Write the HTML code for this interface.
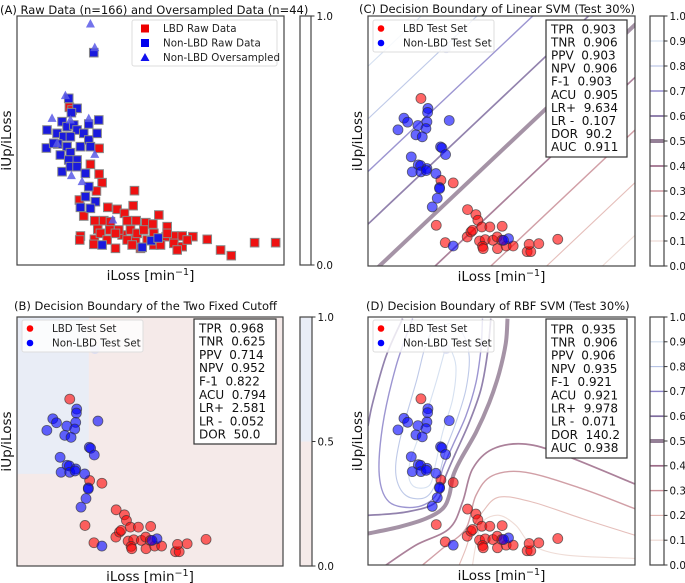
<!DOCTYPE html>
<html><head><meta charset="utf-8"><style>
html,body{margin:0;padding:0;background:#fff;}
svg{display:block;font-family:"DejaVu Sans","Liberation Sans",sans-serif;}
</style></head><body>
<svg id="fig" width="685" height="583" viewBox="0 0 685 583" xmlns="http://www.w3.org/2000/svg">
<defs>
<clipPath id="clipC"><rect x="368" y="16" width="267" height="250"/></clipPath>
<clipPath id="clipD"><rect x="368" y="317" width="267" height="248"/></clipPath>
</defs>
<g id="root"></g>
</svg>
<script>
// ---------- Panel A raw data (iLoss, iUp/iLoss in relative units) ----------
const rawRedX=[157,246,220,246,255,238,352,348,300,272,187,200,233,242,260,280,322,330,357,386,425,407,450,447,470,495,527,570,610,642,712,775,190,188,232,250,278,295,315,340,355,370,390,410,430,470,495,510,480,230,270,305,360,330,410,380,450,215,165,295,345];
const rawRedY=[473,350,302,273,247,222,223,178,167,173,195,147,133,107,133,130,155,133,133,127,150,123,115,85,87,87,85,77,45,28,67,67,87,75,77,95,105,50,90,105,77,50,75,60,60,65,55,75,45,62,75,105,95,75,95,105,95,235,465,95,60];
const rawBlueX=[230,155,180,163,245,215,90,135,150,170,180,200,120,140,160,122,88,110,150,190,215,220,130,160,180,155,135,160,180,205,215,205,190,235,220,255,375,402,423,240];
const rawBlueY=[637,500,470,457,435,423,405,430,415,420,405,395,395,385,385,363,351,365,355,355,375,355,330,337,315,315,280,295,295,275,235,205,173,190,170,60,53,73,81,395];
const overX=[220,233,145,105,215,233,163,195,287,120,160];
const overY=[723,652,508,440,439,332,268,250,135,365,435];
// ---------- Test set (shared by B, C, D) ----------
const lbdX=[159,219,256,205,232,299,324,330,298,309,314,342,366,403,335,352,344,346,375,388,389,415,436,478,489,484,513,570,402];
const lbdY=[502,257,249,122,70,169,154,137,87,102,107,117,117,119,75,79,59,52,77,87,52,60,60,43,43,65,67,80,77];
const nonX=[180,179,108,119,90,150,177,174,244,144,163,218,222,233,130,151,158,133,159,177,175,204,215,215,208,193,256,422,407];
const nonY=[472,460,443,431,408,421,432,412,436,393,387,357,354,334,327,303,301,282,282,292,286,277,235,232,203,177,60,82,77];
const faintX=[235], faintY=[652];
// ---------- Stats ----------
const statsB=[["TPR","0.968"],["TNR","0.625"],["PPV","0.714"],["NPV","0.952"],["F-1","0.822"],["ACU","0.794"],["LR+","2.581"],["LR -","0.052"],["DOR","50.0"]];
const statsC=[["TPR","0.903"],["TNR","0.906"],["PPV","0.903"],["NPV","0.906"],["F-1","0.903"],["ACU","0.905"],["LR+","9.634"],["LR -","0.107"],["DOR","90.2"],["AUC","0.911"]];
const statsD=[["TPR","0.935"],["TNR","0.906"],["PPV","0.906"],["NPV","0.935"],["F-1","0.921"],["ACU","0.921"],["LR+","9.978"],["LR -","0.071"],["DOR","140.2"],["AUC","0.938"]];
// ---------- Contour levels ----------
const levels=[0.1,0.2,0.3,0.4,0.5,0.6,0.7,0.8,0.9];
const cbTicks=["0.0","0.1","0.2","0.3","0.4","0.5","0.6","0.7","0.8","0.9","1.0"];
// RBF contours (decision surface, test-set units)
const rbfLevels=[0.5,0.4,0.3,0.2,0.1,0.6,0.6,0.7,0.8,0.9];
const rbfX=[[0,94,174,224,244,256,279,324,364,394,414,419],[54,144,244,284,314,374,474,594,801],[164,224,294,324,374,474,644,801],[274,294,314,344,394,494,644,801],[314,324,344,394,444,494,594,801],[104,54,14,0],[0,114,204,234,264,304,339,359,369],[134,84,44,34,64,144,204,224,254,294,324,339,344],[244,184,144,94,84,114,174,209,234,264,294,304,284,244],[234,204,164,124,134,184,204,224,254,264,244,234]];
const rbfY=[[95,115,140,170,210,270,320,400,490,580,670,744],[0,60,110,190,290,350,365,330,245],[0,50,110,210,270,280,230,170],[0,50,110,160,205,190,140,90],[0,60,130,150,120,60,30,20],[744,630,490,420],[150,160,190,270,340,430,530,640,744],[744,600,420,270,190,175,210,290,360,450,550,650,744],[730,690,550,370,270,210,205,260,350,430,530,630,700,730],[660,550,420,300,240,240,310,400,500,600,660,660]];

const NS="http://www.w3.org/2000/svg";
const root=document.getElementById('root');
function mk(tag,attrs,parent){const e=document.createElementNS(NS,tag);for(const k in attrs)e.setAttribute(k,attrs[k]);(parent||root).appendChild(e);return e;}
function txt(s,attrs,parent){const e=mk('text',attrs,parent);e.textContent=s;return e;}
const levelColor={0.1:"#ecd6cf",0.2:"#e0b3ae",0.3:"#c98e97",0.4:"#9c6b88",0.5:"#958097",0.6:"#7f6c9f",0.7:"#8b82c9",0.8:"#b3c0e4",0.9:"#cfdcee"};
const levelWidth={0.1:1.1,0.2:1.1,0.3:1.4,0.4:1.7,0.5:4,0.6:1.7,0.7:1.4,0.8:1.1,0.9:1.1};

// panel geometry
const P={A:{x:17,y:16,w:267,h:249},B:{x:17,y:317,w:266,h:249},C:{x:368,y:16,w:267,h:250},D:{x:368,y:317,w:267,h:248}};
function sx(p,v,dom){return P[p].x+v/dom*P[p].w;}
function sy(p,v,dom){return P[p].y+P[p].h-v/dom*P[p].h;}

// ---- Titles ----
const t1=txt("(A) Raw Data (n=166) and Oversampled Data (n=44)",{x:0,y:14,"font-size":"11.5",fill:"#111"});

const t2=txt("(C) Decision Boundary of Linear SVM (Test 30%)",{x:359,y:13,"font-size":"11.5",fill:"#111"});

const t3=txt("(B) Decision Boundary of the Two Fixed Cutoff",{x:14,y:310,"font-size":"11.5",fill:"#111"});

const t4=txt("(D) Decision Boundary of RBF SVM (Test 30%)",{x:366,y:310,"font-size":"11.5",fill:"#111"});


// ---- Panel backgrounds ----
const bBg=mk('rect',{x:P.B.x,y:P.B.y,width:P.B.w,height:P.B.h,fill:"#f5eae9"});

const cutX=0.27*802, cutY=0.37*749;
const bBlue=mk('rect',{x:P.B.x,y:P.B.y,width:sx('B',cutX,802)-P.B.x,height:sy('B',cutY,749)-P.B.y,fill:"#e9edf6"});


// ---- Linear SVM contours (C) ----
const gC=mk('g',{"clip-path":"url(#clipC)"});

levels.forEach(L=>{
  const a=-0.043+(L-0.5)*2.105; // v = a + 1.008u (normalized)
  const u0=-0.2,u1=1.2;
  const ln=mk('line',{x1:P.C.x+u0*P.C.w,y1:P.C.y+P.C.h-(a+1.008*u0)*P.C.h,x2:P.C.x+u1*P.C.w,y2:P.C.y+P.C.h-(a+1.008*u1)*P.C.h,stroke:levelColor[L],"stroke-width":levelWidth[L],"stroke-opacity":0.85},gC);
  
});

// ---- RBF contours (D) ----
const gD=mk('g',{"clip-path":"url(#clipD)"});

function smoothPath(pts){
  let d="M"+pts[0][0]+","+pts[0][1];
  for(let i=0;i<pts.length-1;i++){
    const p0=pts[i-1]||pts[i],p1=pts[i],p2=pts[i+1],p3=pts[i+2]||p2;
    const c1=[p1[0]+(p2[0]-p0[0])/6,p1[1]+(p2[1]-p0[1])/6];
    const c2=[p2[0]-(p3[0]-p1[0])/6,p2[1]-(p3[1]-p1[1])/6];
    d+=" C"+c1[0].toFixed(1)+","+c1[1].toFixed(1)+" "+c2[0].toFixed(1)+","+c2[1].toFixed(1)+" "+p2[0].toFixed(1)+","+p2[1].toFixed(1);
  }
  return d;
}
rbfX.forEach((xs,i)=>{
  const pts=xs.map((x,j)=>[sx('D',x,802),sy('D',rbfY[i][j],749)]);
  const L=rbfLevels[i];
  const p=mk('path',{d:smoothPath(pts),fill:"none",stroke:levelColor[L],"stroke-width":levelWidth[L],"stroke-opacity":0.85},gD);
  
});

// ---- Panel A markers ----
const gA=mk('g',{});

function square(x,y,fill,name){const s=mk('rect',{x:x-4.3,y:y-4.3,width:8.6,height:8.6,fill:fill,stroke:"#888","stroke-width":1},gA);}
rawRedX.forEach((x,i)=>square(sx('A',x,800),sy('A',rawRedY[i],747),"#ee1111","lbd-raw-point"));
rawBlueX.forEach((x,i)=>square(sx('A',x,800),sy('A',rawBlueY[i],747),"#1a1add","non-lbd-raw-point"));
overX.forEach((x,i)=>{const cx=sx('A',x,800),cy=sy('A',overY[i],747);
  const t=mk('polygon',{points:`${cx},${cy-5} ${cx-4.5},${cy+3.5} ${cx+4.5},${cy+3.5}`,fill:"#5a5ae8","fill-opacity":0.85},gA);
  });

// ---- Test set points B, C, D ----
['B','C','D'].forEach(p=>{
  const g=mk('g',{});
  
  faintX.forEach((x,i)=>{const c=mk('circle',{cx:sx(p,x,802),cy:sy(p,faintY[i],749),r:4.8,fill:"#d8dcf4","fill-opacity":0.9},g);});
  lbdX.forEach((x,i)=>{const c=mk('circle',{cx:sx(p,x,802),cy:sy(p,lbdY[i],749),r:5,fill:"#ff0000","fill-opacity":0.6,stroke:"#333","stroke-opacity":0.7,"stroke-width":0.8},g);});
  nonX.forEach((x,i)=>{const c=mk('circle',{cx:sx(p,x,802),cy:sy(p,nonY[i],749),r:5,fill:"#0000ff","fill-opacity":0.6,stroke:"#333","stroke-opacity":0.7,"stroke-width":0.8},g);});
});

// ---- Axes frames and labels ----
['A','B','C','D'].forEach(p=>{
  const r=mk('rect',{x:P[p].x,y:P[p].y,width:P[p].w,height:P[p].h,fill:"none",stroke:"#444","stroke-width":1.2});
  
  const cx=P[p].x+P[p].w/2;
  const xl=txt("",{x:cx,y:P[p].y+P[p].h+15,"font-size":"13.5","text-anchor":"middle",fill:"#111"});
  xl.innerHTML='iLoss [min<tspan dy="-5" font-size="9.5">−1</tspan><tspan dy="5">]</tspan>';
  
  const yc=P[p].y+P[p].h/2;
  const yl=txt("iUp/iLoss",{x:P[p].x-6,y:yc,"font-size":"13.5","text-anchor":"middle",fill:"#111",transform:`rotate(-90 ${P[p].x-6} ${yc})`});
  
});

// ---- Legends ----
function legend(x,y,w,h,entries,name){
  const g=mk('g',{});
  
  mk('rect',{x:x,y:y,width:w,height:h,rx:2,fill:"#fff","fill-opacity":0.8,stroke:"#ddd"},g);
  entries.forEach((e,i)=>{
    const yy=y+8.5+i*14.5;
    let m;
    if(e.shape==='sq') m=mk('rect',{x:x+9,y:yy-4,width:8,height:8,fill:e.c},g);
    else if(e.shape==='tri') m=mk('polygon',{points:`${x+13},${yy-4.5} ${x+8.5},${yy+3.5} ${x+17.5},${yy+3.5}`,fill:e.c},g);
    else m=mk('circle',{cx:x+8,cy:yy,r:3.3,fill:e.c},g);
    
    const t=txt(e.t,{x:x+(e.shape==='circ'?30:31),y:yy+3.7,"font-size":"10.3",fill:"#222"},g);
    
  });
}
legend(132,20,145,46,[{shape:'sq',c:"#ee0000",t:"LBD Raw Data"},{shape:'sq',c:"#0000ee",t:"Non-LBD Raw Data"},{shape:'tri',c:"#1010ee",t:"Non-LBD Oversampled"}],'legend-a');
legend(22,320,121,32,[{shape:'circ',c:"#ff0000",t:"LBD Test Set"},{shape:'circ',c:"#0000ff",t:"Non-LBD Test Set"}],'legend-b');
legend(373,20,121,32,[{shape:'circ',c:"#ff0000",t:"LBD Test Set"},{shape:'circ',c:"#0000ff",t:"Non-LBD Test Set"}],'legend-c');
legend(373,320,121,32,[{shape:'circ',c:"#ff0000",t:"LBD Test Set"},{shape:'circ',c:"#0000ff",t:"Non-LBD Test Set"}],'legend-d');

// ---- Stats boxes ----
function stats(x,y,w,h,rows,firstY,step,name){
  const g=mk('g',{});
  
  mk('rect',{x:x,y:y,width:w,height:h,fill:"#fff",stroke:"#333","stroke-width":1.2},g);
  rows.forEach((r,i)=>{
    const t=txt(r[0]+"  "+r[1],{x:x+5,y:firstY+i*step+4.3,"font-size":"12",fill:"#111"},g);
    t.setAttribute('style','white-space:pre');
    
  });
}
stats(194,319,82,125,statsB,328,13.3,'stats-box-b');
stats(546,20,81,137,statsC,29,13.1,'stats-box-c');
stats(546,319,81,139,statsD,329,13.2,'stats-box-d');

// ---- Colorbars ----
function cbar(x,y,w,h,name){const r=mk('rect',{x:x,y:y,width:w,height:h,fill:"none",stroke:"#444","stroke-width":1.2});}
function tick(x,y,label,name){
  const l=mk('line',{x1:x,y1:y,x2:x+3.5,y2:y,stroke:"#333","stroke-width":1});
  
  const t=txt(label,{x:x+5.5,y:y+3.8,"font-size":"10.3",fill:"#111"});
  
}
const cbA=mk('rect',{x:300,y:16,width:11,height:249,fill:"#fff"});
cbar(300,16,11,249,'colorbar-a');
tick(311,16,"1.0",'colorbar-a');tick(311,265,"0.0",'colorbar-a');
const cbB1=mk('rect',{x:300,y:317,width:12,height:124.5,fill:"#e9edf6"});
const cbB2=mk('rect',{x:300,y:441.5,width:12,height:124.5,fill:"#f5eae9"});
cbar(300,317,12,249,'colorbar-b');
tick(312,317,"1.0",'colorbar-b');tick(312,441.5,"0.5",'colorbar-b');tick(312,566,"0.0",'colorbar-b');
[[16,250,'c'],[317,248,'d']].forEach(([y0,h,n])=>{
  levels.forEach(L=>{
    const yy=y0+h-L*h;
    const l=mk('line',{x1:650,y1:yy,x2:664,y2:yy,stroke:levelColor[L],"stroke-width":levelWidth[L]});
    
  });
  cbar(650,y0,14,h,'colorbar-'+n);
  cbTicks.forEach((lab,i)=>tick(664,y0+h-i/10*h,lab,'colorbar-'+n));
});
</script>
</body></html>
